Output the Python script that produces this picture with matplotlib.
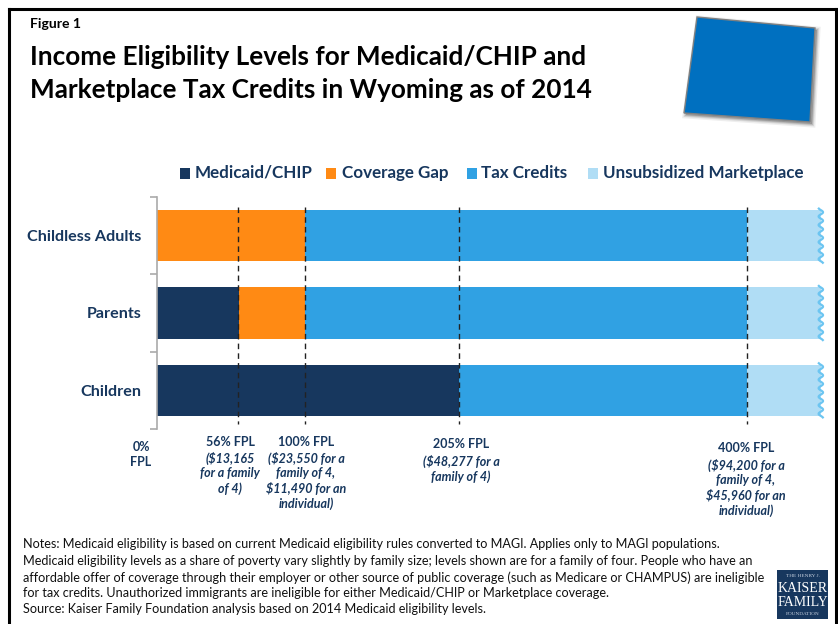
import matplotlib
matplotlib.use("Agg")
import matplotlib.pyplot as plt
from matplotlib.patches import Polygon, Rectangle
import numpy as np

plt.rcParams['font.family'] = ['Lato', 'DejaVu Sans']

# data
groups = ['Childless Adults', 'Parents', 'Children']
medicaid = [0, 55.5, 204.5]
gap = [100, 44.5, 0]
credits = [300, 300, 195.5]
unsubsidized = [50, 50, 50]
fpl_lines = [55, 100, 204.5, 400]

series_names = ['Medicaid/CHIP', 'Coverage Gap', 'Tax Credits', 'Unsubsidized Marketplace']
series_colors = ['#17375E', '#FF8A14', '#30A1E3', '#B0DDF5']
legend_box_x = [180, 326, 467, 588]
legend_text_x = [195, 342, 481, 603]

fpl_labels = ['0%\nFPL', '56% FPL', '100% FPL', '205% FPL', '400% FPL']
fpl_notes = ['',
             '($13,165\nfor a family\nof 4)',
             '($23,550 for a\nfamily of 4,\n$11,490 for an\nindividual)',
             '($48,277 for a\nfamily of 4)',
             '($94,200 for a\nfamily of 4,\n$45,960 for an\nindividual)']
label_x = [141, 230, 306, 461, 746]
label_y = [441, 435.5, 435.5, 438.5, 442.5]

notes = ['Notes: Medicaid eligibility is based on current Medicaid eligibility rules converted to MAGI. Applies only to MAGI populations.',
         'Medicaid eligibility levels as a share of poverty vary slightly by family size; levels shown are for a family of four. People who have an',
         'affordable offer of coverage through their employer or other source of public coverage (such as Medicare or CHAMPUS) are ineligible',
         'for tax credits. Unauthorized immigrants are ineligible for either Medicaid/CHIP or Marketplace coverage.',
         'Source: Kaiser Family Foundation analysis based on 2014 Medicaid eligibility levels.']
notes_y = [544, 561, 578, 593, 609]

navy = '#17375E'
W, H = 838, 624

fig = plt.figure(figsize=(W / 100, H / 100), dpi=100)

# full figure axes in pixels, for everything around the chart
bg = fig.add_axes([0, 0, 1, 1], zorder=0)
bg.set_xlim(0, W)
bg.set_ylim(H, 0)
bg.axis('off')

bg.plot([9, 9], [H, 9], color='black', lw=2.2)
bg.plot([9, 836], [9, 9], color='black', lw=2.2)
bg.plot([836, 836], [9, H], color='black', lw=2.2)

bg.text(30, 24, 'Figure 1', fontsize=10.1, fontweight='bold', va='center')
bg.text(30, 57, 'Income Eligibility Levels for Medicaid/CHIP and', fontsize=18.85, fontweight='bold', va='center')
bg.text(30, 90, 'Marketplace Tax Credits in Wyoming as of 2014', fontsize=18.85, fontweight='bold', va='center')

# state shape, soft shadow first
state = [(697, 17), (815, 28), (810, 122), (684, 113)]
for lw, a in [(5, 0.12), (3, 0.2), (1.5, 0.3)]:
    bg.add_patch(Polygon([(x + 2, y + 2) for x, y in state], fc='#777777', ec='#777777', lw=lw, alpha=a))
bg.add_patch(Polygon(state, fc='#0070C0', ec='#808080', lw=1))

# legend
for i in range(len(series_names)):
    bg.add_patch(Rectangle((legend_box_x[i], 168), 10, 11, fc=series_colors[i], ec='none'))
    bg.text(legend_text_x[i], 173, series_names[i], color=navy, fontsize=12.25, fontweight='bold', va='center')

# chart
ax = fig.add_axes([157 / W, 1 - 429 / H, (822 - 157) / W, (429 - 197) / H], zorder=1)
ax.patch.set_alpha(0)
ypos = np.arange(len(groups))
left = np.zeros(len(groups))
for vals, c in zip([medicaid, gap, credits, unsubsidized], series_colors):
    ax.barh(ypos, vals, left=left, height=0.66, color=c, zorder=1)
    left = left + np.array(vals)

# torn edge on the right of the bars
for y in ypos:
    yy = np.linspace(y - 0.35, y + 0.35, 120)
    ax.plot(left[y] + 1.5 * np.sin((yy - y) * 57), yy, color='#6CC5F1', lw=1.6, zorder=2, clip_on=False)

for v in fpl_lines:
    ax.plot([v, v], [-0.37, 2.44], color='#222222', lw=1, ls=(0, (4, 3)), zorder=3, clip_on=False)

ax.set_xlim(0, 450.8)
ax.set_ylim(2.5, -0.5)
ax.set_yticks(ypos)
ax.set_yticklabels(groups, color=navy, fontsize=11.6, fontweight='bold')
ax.set_yticks([-0.5, 0.5, 1.5, 2.5], minor=True)
ax.tick_params(axis='y', which='major', length=0, pad=11)
ax.tick_params(axis='y', which='minor', length=5, color='#aaaaaa', width=1.2)
ax.set_xticks([])
for s in ['top', 'right', 'bottom']:
    ax.spines[s].set_visible(False)
ax.spines['left'].set_color('#aaaaaa')
ax.spines['left'].set_linewidth(1.2)

# FPL labels under the chart
for i in range(len(fpl_labels)):
    y = label_y[i]
    n = fpl_labels[i].count('\n') + 1
    bg.text(label_x[i], y, fpl_labels[i], color=navy, fontsize=9, fontweight='bold', ha='center', va='top', linespacing=1.25)
    if fpl_notes[i]:
        bg.text(label_x[i], y + 16.2 * n, fpl_notes[i], color=navy, fontsize=9, fontweight='bold', style='italic',
                ha='center', va='top', linespacing=1.25)

for line, y in zip(notes, notes_y):
    bg.text(23, y, line, fontsize=9.12, va='center', color='#111111')

# logo
bg.add_patch(Rectangle((777, 570), 51, 49, fc='#17375E', ec='none'))
bg.text(802.5, 576, 'THE HENRY J.', color='#c8d2e0', fontsize=3.8, family='Liberation Serif', ha='center', va='center')
bg.text(802.5, 589, 'KAISER', color='white', fontsize=10, family='Liberation Serif', ha='center', va='center')
bg.text(802.5, 602, 'FAMILY', color='white', fontsize=10, family='Liberation Serif', ha='center', va='center')
bg.text(802.5, 614, 'FOUNDATION', color='#c8d2e0', fontsize=3.8, family='Liberation Serif', ha='center', va='center')

fig.savefig('out.png', dpi=100)
